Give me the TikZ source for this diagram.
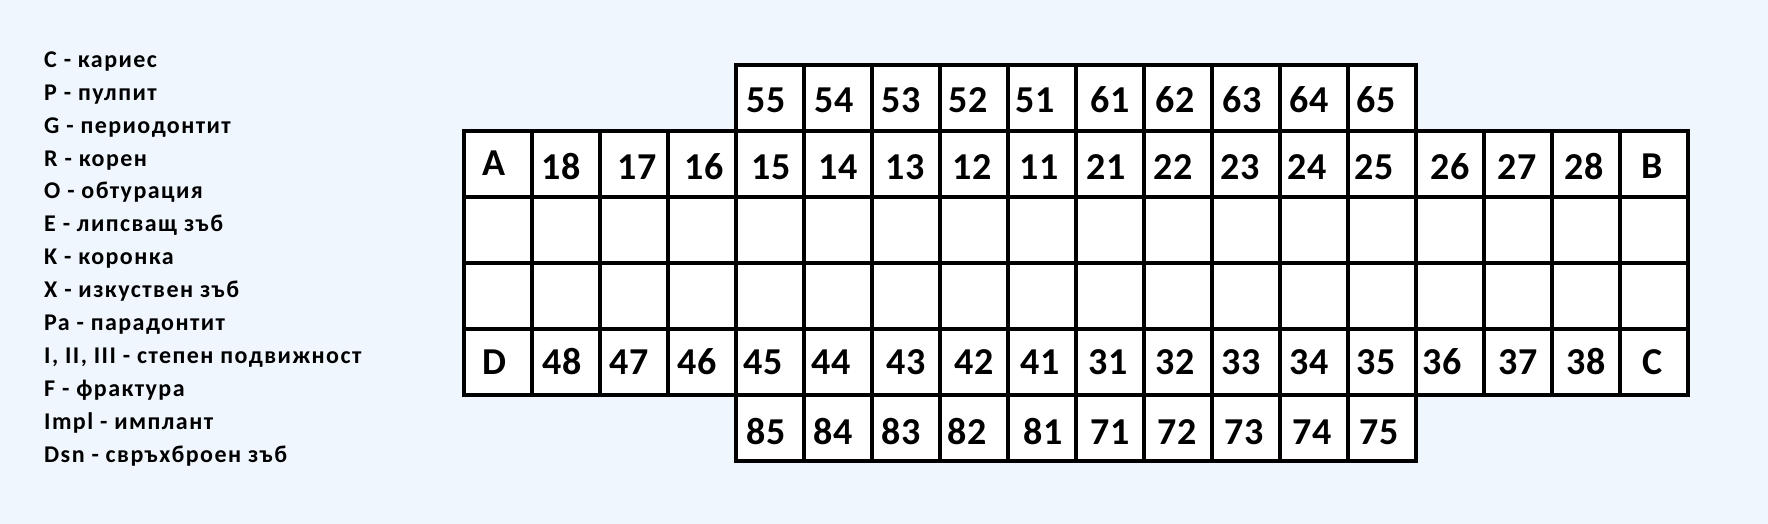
\documentclass[tikz,border=0pt]{standalone}
\usepackage{fontspec}
\setmainfont{Carlito}
\newfontfamily\legfont{Carlito}[LetterSpace=6]
\definecolor{bg}{RGB}{239,246,254}
\begin{document}
\begin{tikzpicture}[x=1pt,y=-1pt,
  cell/.style={rectangle,draw=black,fill=white,line width=4pt,minimum width=68pt,minimum height=66pt,inner sep=0pt,outer sep=0pt},
  num/.style={font=\fontsize{38}{40}\selectfont\bfseries,inner sep=0pt,anchor=base},
  leg/.style={font=\legfont\fontsize{24}{26}\selectfont\bfseries,inner sep=0pt,anchor=base west}]
\fill[bg] (0,0) rectangle (1768,524);
\useasboundingbox (0,0) rectangle (1768,524);
% legend
\foreach \t [count=\i from 0] in {C - кариес,P - пулпит,G - периодонтит,R - корен,O - обтурация,E - липсващ зъб,K - коронка,X - изкуствен зъб,Pa - парадонтит,{I, II, III - степен подвижност},F - фрактура,Impl - имплант,Dsn - свръхброен зъб}
  \node[leg] (leg-\i) at (44,{67.3+32.9*\i}) {\t};
% baby top row
\foreach \t/\dx [count=\k from 4] in {55/-4,54/-4,53/-5,52/-6,51/-7,61/0,62/-3,63/-4,64/-5,65/-6}{
  \node[cell] (c0-\k) at ({498+68*\k},98) {};
  \node[num] (t0-\k) at ({498+68*\k+\dx},113) {\t};
}
% main top row
\foreach \t/\dx/\by [count=\k from 0] in {A/-4/175,18/-5/179,17/3/179,16/2/179,15/1/179,14/0/179,13/-1/179,12/-2/179,11/-3/179,21/-4/179,22/-5/179,23/-6/179,24/-7/179,25/-8/179,26/0/179,27/-1/179,28/-2/179,B/-2/178}{
  \node[cell] (c1-\k) at ({498+68*\k},164) {};
  \node[num] (t1-\k) at ({498+68*\k+\dx},\by) {\t};
}
% empty rows
\foreach \r in {2,3}
  \foreach \k in {0,...,17}
    \node[cell] (c\r-\k) at ({498+68*\k},{98+66*\r}) {};
% main bottom row
\foreach \t/\dx [count=\k from 0] in {D/-4,48/-4,47/-5,46/-5,45/-7,44/-7,43/0,42/0,41/-2,31/-2,32/-3,33/-5,34/-5,35/-6,36/-8,37/0,38/0,C/-1}{
  \node[cell] (c4-\k) at ({498+68*\k},362) {};
  \node[num] (t4-\k) at ({498+68*\k+\dx},374) {\t};
}
% baby bottom row
\foreach \t/\dx [count=\k from 4] in {85/-4,84/-5,83/-5,82/-7,81/1,71/0,72/-1,73/-2,74/-2,75/-3}{
  \node[cell] (c5-\k) at ({498+68*\k},428) {};
  \node[num] (t5-\k) at ({498+68*\k+\dx},444) {\t};
}
\end{tikzpicture}
\end{document}
